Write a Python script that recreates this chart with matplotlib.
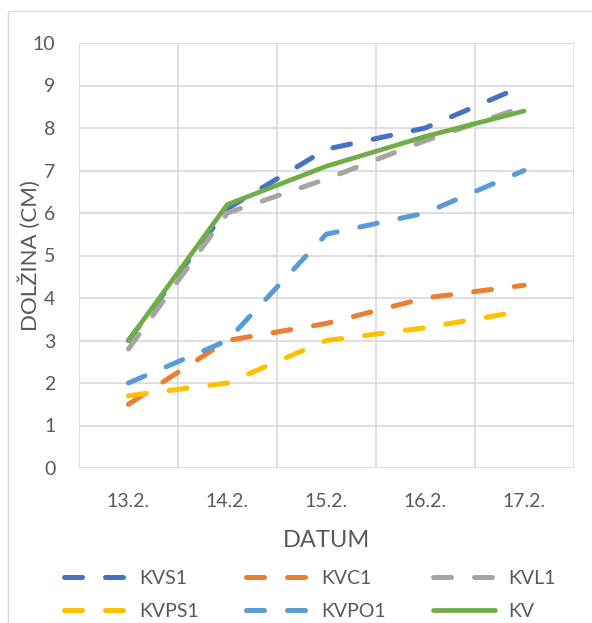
import matplotlib
matplotlib.use("Agg")
import matplotlib.pyplot as plt
from matplotlib.patches import Rectangle
import numpy as np

# Data
dates = ["13.2.", "14.2.", "15.2.", "16.2.", "17.2."]
kvs1 = [3.0, 6.1, 7.5, 8.0, 9.0]
kvc1 = [1.5, 3.0, 3.4, 4.0, 4.3]
kvl1 = [2.8, 6.0, 6.8, 7.7, 8.5]
kvps1 = [1.7, 2.0, 3.0, 3.3, 3.7]
kvpo1 = [2.0, 3.0, 5.5, 6.0, 7.0]
kv = [3.0, 6.2, 7.1, 7.8, 8.4]

series_names = ["KVS1", "KVC1", "KVL1", "KVPS1", "KVPO1", "KV"]
series_values = [kvs1, kvc1, kvl1, kvps1, kvpo1, kv]
series_colors = ["#4472C4", "#ED7D31", "#A5A5A5", "#FFC000", "#5B9BD5", "#70AD47"]

plt.rcParams['font.family'] = ['Lato', 'DejaVu Sans']
text_color = "#595959"
W, H = 592, 623

fig = plt.figure(figsize=(W / 100, H / 100), dpi=100)
ax_l, ax_r, ax_t, ax_b = 79, 573.5, 43, 468
ax = fig.add_axes([ax_l / W, 1 - ax_b / H, (ax_r - ax_l) / W, (ax_b - ax_t) / H])

# chart-area border
fig.patches.append(Rectangle((7.5 / W, -0.1), 1.2, 1 - 11 / H + 0.1,
                             transform=fig.transFigure, fill=False,
                             edgecolor="#D9D9D9", linewidth=1.0))

x = np.arange(len(dates))
handles = {}
for name, vals, col in zip(series_names, series_values, series_colors):
    if name == "KV":
        ln, = ax.plot(x, vals, color=col, linewidth=3.4, solid_capstyle="round",
                      solid_joinstyle="round", zorder=5)
    else:
        ln, = ax.plot(x, vals, color=col, linewidth=3.6, linestyle=(0, (3.6, 4.6)),
                      dash_capstyle="round", dash_joinstyle="round", zorder=3)
    handles[name] = ln

ax.set_xlim(-0.5, len(dates) - 0.5)
ax.set_ylim(0, 10)
ax.set_yticks(np.arange(0, 11, 1))
ax.set_xticks(x)
ax.set_xticklabels(dates)
ax.set_xticks(np.arange(-0.5, len(dates), 1), minor=True)

ax.grid(False)
ax.yaxis.grid(True, which="major", color="#D9D9D9", linewidth=1.2)
ax.xaxis.grid(True, which="minor", color="#D9D9D9", linewidth=1.2)
ax.set_axisbelow(True)
for s in ax.spines.values():
    s.set_visible(False)
ax.tick_params(axis="both", which="both", length=0, colors=text_color, labelsize=14)
ax.tick_params(axis="y", pad=17)
ax.tick_params(axis="x", pad=18)

ax.set_xlabel("DATUM", color=text_color, fontsize=17)
ax.set_ylabel("DOLŽINA (CM)", color=text_color, fontsize=16)
ax.xaxis.set_label_coords(0.5, -0.145)
ax.yaxis.set_label_coords(-0.077, 0.5)

order = ["KVS1", "KVPS1", "KVC1", "KVPO1", "KVL1", "KV"]
leg = fig.legend([handles[n] for n in order], order, loc="center left",
                 bbox_to_anchor=(63.5 / W, 1 - 595 / H), ncol=3, frameon=False,
                 borderpad=0, borderaxespad=0,
                 fontsize=14, handlelength=3.2, columnspacing=2.4,
                 handletextpad=0.7, labelspacing=0.8)
for t in leg.get_texts():
    t.set_color(text_color)

fig.savefig("out.png", dpi=100)
